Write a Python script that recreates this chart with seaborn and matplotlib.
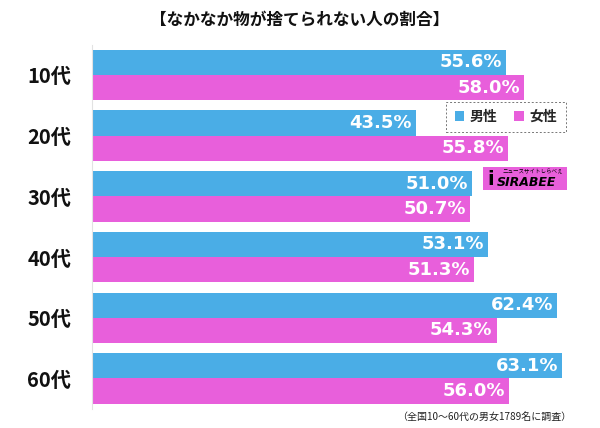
import matplotlib
matplotlib.use("Agg")
import matplotlib.pyplot as plt
from matplotlib.patches import Patch, Rectangle
import seaborn as sns
import pandas as pd

categories = ['10代', '20代', '30代', '40代', '50代', '60代']
male = [55.6, 43.5, 51.0, 53.1, 62.4, 63.1]
female = [58.0, 55.8, 50.7, 51.3, 54.3, 56.0]
series_names = ['男性', '女性']
title = '【なかなか物が捨てられない人の割合】'
note = '（全国10～60代の男女1789名に調査）'

BLUE = '#4AADE6'
PINK = '#E85FDB'

sns.set_theme(style='white')
plt.rcParams['font.family'] = ['Noto Sans CJK JP', 'DejaVu Sans']

df = pd.DataFrame({
    'age': categories * 2,
    'value': male + female,
    'sex': [series_names[0]] * len(categories) + [series_names[1]] * len(categories),
})

fig = plt.figure(figsize=(6.0, 4.28), dpi=100)
ax = fig.add_axes([92 / 600, 0.0449, 0.82, 0.851])

sns.barplot(data=df, x='value', y='age', hue='sex', orient='h',
            palette=[BLUE, PINK], saturation=1, width=0.83, linewidth=0,
            order=categories, hue_order=series_names, legend=False, ax=ax)

ax.set_xlim(0, 66)
ax.set_ylim(5.5, -0.5)
ax.set_xlabel('')
ax.set_ylabel('')
ax.set_xticks([])
for s in ['top', 'right', 'bottom']:
    ax.spines[s].set_visible(False)
ax.spines['left'].set_color('#e2e2e2')
ax.spines['left'].set_linewidth(0.8)
ax.tick_params(axis='y', length=0, pad=15, labelsize=14.5)
for lbl in ax.get_yticklabels():
    lbl.set_fontweight('bold')
    lbl.set_color('#111111')

for cont in ax.containers:
    for p in cont.patches:
        w = p.get_width()
        yc = p.get_y() + p.get_height() / 2
        ax.annotate(f'{w:.1f}%', xy=(w, yc), xytext=(-3, 0),
                    textcoords='offset points', ha='right', va='center',
                    color='white', fontsize=13, fontweight='bold',
                    family=['DejaVu Sans'])

fig.text(0.5, 0.955, title, ha='center', va='center', fontsize=12,
         fontweight='bold', color='#111111')

handles = [Patch(facecolor=BLUE, edgecolor='none'),
           Patch(facecolor=PINK, edgecolor='none')]
leg = fig.legend(handles, series_names, loc='center',
                 bbox_to_anchor=(506 / 600, 1 - 117 / 428), ncol=2,
                 frameon=True, fancybox=False, handlelength=0.7,
                 handleheight=0.7, handletextpad=0.4, columnspacing=1.2,
                 borderpad=0.6, prop={'size': 10, 'weight': 'bold'})
fr = leg.get_frame()
fr.set_linestyle((0, (2, 2)))
fr.set_edgecolor('#555555')
fr.set_linewidth(0.7)

# SIRABEE logo
fig.patches.append(Rectangle((483 / 600, 1 - 190 / 428), 84 / 600, 23 / 428,
                             transform=fig.transFigure, facecolor=PINK,
                             edgecolor='none'))
fig.text(487 / 600, 1 - 179.5 / 428, 'i', ha='left', va='center', fontsize=14,
         fontweight='bold', color='black', family=['DejaVu Sans'])
fig.text(497 / 600, 1 - 183 / 428, 'SIRABEE', ha='left', va='center',
         fontsize=9, fontweight='bold', style='italic', color='black',
         family=['DejaVu Sans'])
fig.text(563 / 600, 1 - 172 / 428, 'ニュースサイトしらべぇ', ha='right',
         va='center', fontsize=4, color='black')

fig.text(571 / 600, 1 - 417 / 428, note, ha='right', va='center',
         fontsize=7.2, color='#222222')

fig.savefig('out.png', dpi=100)
